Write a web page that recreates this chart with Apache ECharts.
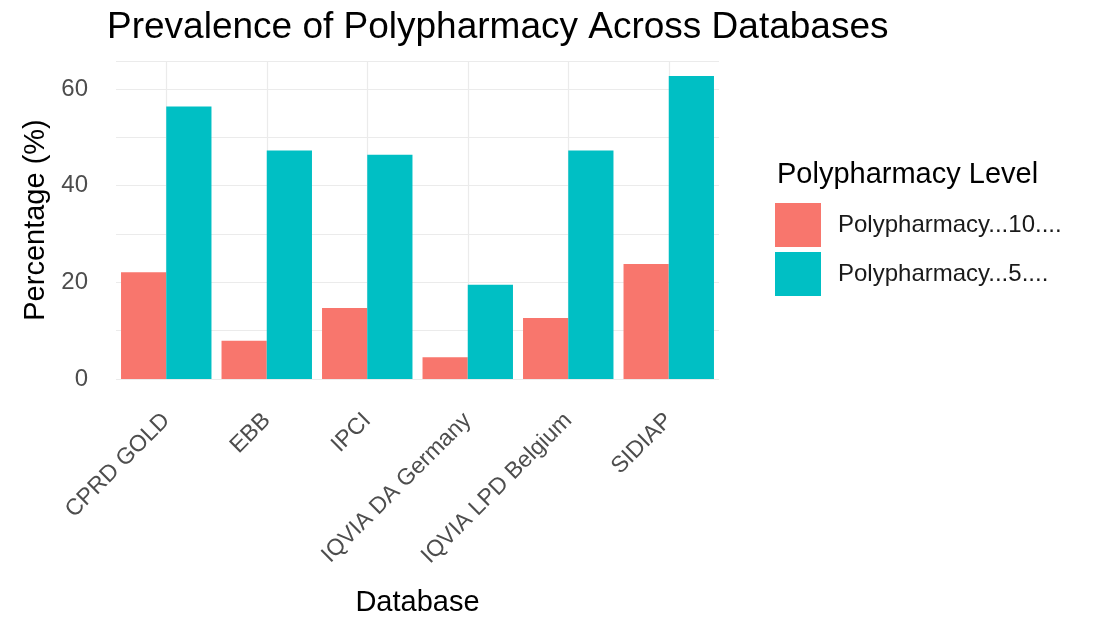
<!DOCTYPE html>
<html>
<head>
<meta charset="utf-8">
<script src="https://cdn.jsdelivr.net/npm/echarts@6/dist/echarts.min.js"></script>
<style>
  html, body { margin: 0; padding: 0; background: #fff; }
  #chart { width: 1094px; height: 622px; }
</style>
</head>
<body>
<div id="chart"></div>
<script>
const databases = ["CPRD GOLD", "EBB", "IPCI", "IQVIA DA Germany", "IQVIA LPD Belgium", "SIDIAP"];
const poly10 = [22.1, 7.9, 14.7, 4.5, 12.6, 23.8];
const poly5 = [56.4, 47.3, 46.4, 19.5, 47.3, 62.7];
const seriesNames = ["Polypharmacy...10....", "Polypharmacy...5...."];
const yTicks = [0, 20, 40, 60];

const font = "Liberation Sans, Arial, sans-serif";
const chart = echarts.init(document.getElementById("chart"));

chart.setOption({
  animation: false,
  textStyle: { fontFamily: font },
  title: [
    {
      text: "Prevalence of Polypharmacy Across Databases",
      left: 102, top: 4,
      textStyle: { fontSize: 37, fontWeight: "normal", color: "#000", fontFamily: font }
    },
    {
      text: "Polypharmacy Level",
      left: 772, top: 155,
      textStyle: { fontSize: 29, fontWeight: "normal", color: "#000", fontFamily: font }
    }
  ],
  legend: {
    orient: "vertical",
    left: 770, top: 198,
    itemWidth: 46, itemHeight: 44,
    itemGap: 5,
    icon: "rect",
    data: seriesNames,
    textStyle: { fontSize: 24, color: "#1a1a1a", fontFamily: font, padding: [0, 0, 0, 12] }
  },
  grid: { left: 116, right: 375, top: 61, bottom: 242 },
  xAxis: {
    type: "category",
    data: databases,
    name: "Database",
    nameLocation: "middle",
    nameGap: 209,
    nameTextStyle: { fontSize: 29, color: "#000", fontFamily: font },
    axisLine: { show: false },
    axisTick: { show: false },
    axisLabel: { rotate: 45, fontSize: 23, color: "#4d4d4d", margin: 38, fontFamily: font },
    splitLine: { show: true, alignWithLabel: true, lineStyle: { color: "#ebebeb", width: 1.2 } }
  },
  yAxis: {
    type: "value",
    min: 0, max: 65.8, interval: 10,
    name: "Percentage (%)",
    nameLocation: "middle",
    nameGap: 58,
    nameTextStyle: { fontSize: 29, color: "#000", fontFamily: font },
    axisLine: { show: false },
    axisTick: { show: false },
    axisLabel: {
      fontSize: 24, color: "#4d4d4d", margin: 28, fontFamily: font,
      formatter: v => yTicks.includes(v) ? String(v) : ""
    },
    splitLine: { lineStyle: { color: "#ebebeb", width: 1.2 } }
  },
  series: [
    {
      name: seriesNames[0], type: "bar", data: poly10,
      itemStyle: { color: "#F8766D" },
      barGap: "0%", barCategoryGap: "10%"
    },
    {
      name: seriesNames[1], type: "bar", data: poly5,
      itemStyle: { color: "#00BFC4" },
      barGap: "0%", barCategoryGap: "10%"
    }
  ]
});
</script>
</body>
</html>
